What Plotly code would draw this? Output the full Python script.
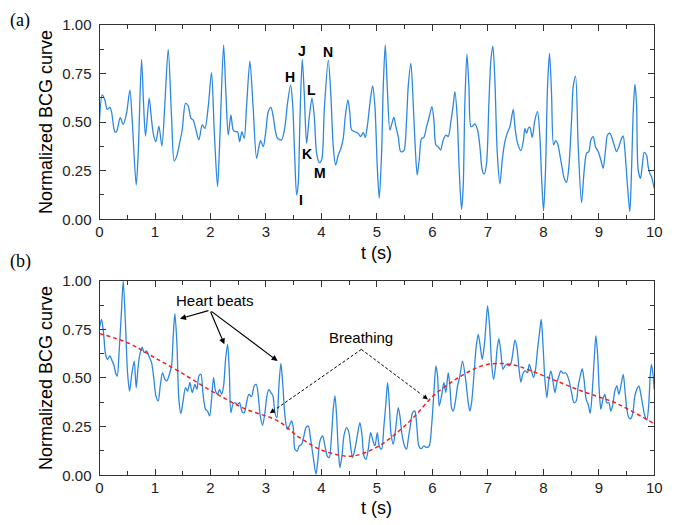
import plotly.graph_objects as go

# ---------------- data ----------------
top_t = [0.000,0.048,0.096,0.138,0.186,0.216,0.276,0.306,0.373,0.427,0.487,0.547,0.589,0.661,0.697,0.757,0.793,0.829,0.895,0.938,0.974,1.016,1.070,1.124,1.178,1.238,1.298,1.346,1.388,1.448,1.490,1.550,1.599,1.647,1.689,1.731,1.791,1.851,1.899,1.959,2.019,2.067,2.127,2.170,2.236,2.278,2.320,2.368,2.410,2.452,2.488,2.524,2.566,2.608,2.650,2.710,2.764,2.831,2.873,2.903,2.951,2.993,3.041,3.089,3.131,3.167,3.209,3.281,
         3.342,3.384,3.444,3.480,3.516,3.552,3.582,3.612,3.654,3.690,3.732,3.775,3.829,3.871,3.913,3.961,4.003,4.051,4.123,4.171,4.213,4.255,4.303,4.351,4.393,4.429,4.477,4.513,4.543,4.603,4.663,4.705,4.754,4.790,4.826,4.874,4.922,4.964,5.006,5.042,5.084,5.114,5.150,5.186,5.234,5.270,5.306,5.342,5.384,5.426,5.462,5.492,5.534,5.564,5.612,5.654,5.690,5.726,5.762,5.805,5.847,5.895,5.943,5.991,6.027,6.063,6.105,6.147,6.195,6.243,6.285,6.333,6.375,6.405,6.447,6.483,6.525,6.555,6.585,
         6.622,6.658,6.694,6.724,6.766,6.814,6.856,6.898,6.934,6.976,7.018,7.054,7.090,7.126,7.169,7.217,7.259,7.307,7.349,7.397,7.457,7.487,7.535,7.595,7.637,7.667,7.697,7.727,7.757,7.799,7.847,7.895,7.937,7.967,8.003,8.039,8.075,8.111,8.147,8.184,8.220,8.256,8.298,8.340,8.376,8.418,8.460,8.508,8.538,8.580,8.628,8.688,8.736,8.778,8.820,8.856,8.898,8.940,8.988,9.036,9.078,9.120,9.156,9.198,9.228,9.276,9.318,9.360,9.409,9.439,9.469,9.517,9.559,9.589,9.619,9.649,9.679,9.709,9.751,9.781,9.817,9.859,9.889,9.919,9.949,9.997]
top_v = [0.510,0.639,0.613,0.565,0.575,0.553,0.450,0.450,0.522,0.488,0.545,0.664,0.510,0.176,0.339,0.822,0.596,0.428,0.622,0.510,0.433,0.399,0.479,0.377,0.596,0.873,0.527,0.300,0.322,0.399,0.459,0.596,0.582,0.519,0.510,0.467,0.408,0.485,0.467,0.579,0.753,0.459,0.168,0.425,0.896,0.647,0.433,0.536,0.459,0.450,0.450,0.399,0.450,0.416,0.579,0.813,0.596,0.313,0.373,0.404,0.373,0.442,0.553,0.575,0.527,0.459,0.416,0.408,
         0.476,0.587,0.690,0.596,0.339,0.125,0.185,0.510,0.822,0.647,0.390,0.510,0.622,0.527,0.339,0.291,0.305,0.562,0.818,0.630,0.373,0.279,0.330,0.365,0.416,0.527,0.613,0.545,0.459,0.450,0.442,0.425,0.445,0.421,0.476,0.596,0.685,0.579,0.271,0.108,0.339,0.682,0.896,0.682,0.459,0.493,0.524,0.476,0.425,0.348,0.348,0.356,0.510,0.682,0.801,0.596,0.373,0.228,0.305,0.416,0.421,0.476,0.527,0.579,0.510,0.382,0.373,0.356,0.408,0.433,0.425,0.502,0.587,0.656,0.527,0.253,0.051,0.168,0.596,
         0.849,0.682,0.476,0.479,0.490,0.459,0.373,0.253,0.233,0.288,0.596,0.818,0.890,0.716,0.339,0.182,0.305,0.399,0.442,0.476,0.565,0.476,0.390,0.353,0.399,0.467,0.442,0.467,0.473,0.421,0.510,0.553,0.425,0.219,0.043,0.253,0.682,0.853,0.647,0.382,0.404,0.390,0.330,0.262,0.211,0.190,0.271,0.510,0.682,0.736,0.373,0.086,0.253,0.339,0.348,0.408,0.425,0.373,0.348,0.305,0.262,0.356,0.433,0.442,0.425,0.382,0.348,0.373,0.416,0.428,0.356,0.168,0.039,0.253,0.545,0.695,0.596,0.253,0.211,0.271,0.344,0.330,0.271,0.236,0.219,0.159]

bot_t = [0.000,0.036,0.072,0.108,0.144,0.186,0.228,0.264,0.288,0.319,0.349,0.397,0.427,0.469,0.505,0.541,0.577,0.625,0.661,0.697,0.733,0.769,0.805,0.847,0.889,0.938,0.980,1.016,1.058,1.094,1.136,1.178,1.214,1.250,1.298,1.328,1.358,1.394,1.430,1.466,1.502,1.550,1.587,1.629,1.671,1.719,1.755,1.791,1.827,1.869,1.911,1.947,1.983,2.019,2.055,2.091,2.127,2.163,2.200,2.236,2.272,2.308,2.338,2.368,2.404,2.440,2.488,2.524,2.572,2.608,2.650,2.692,2.740,2.788,2.825,2.861,2.897,2.939,2.981,3.017,3.053,3.089,3.125,3.161,3.197,3.233,3.269,3.305,
         3.342,3.384,3.420,3.462,3.492,3.522,3.564,3.600,3.642,3.684,3.720,3.763,3.805,3.853,3.901,3.937,3.973,4.021,4.063,4.105,4.141,4.177,4.213,4.243,4.273,4.303,4.333,4.369,4.405,4.453,4.495,4.525,4.561,4.603,4.645,4.693,4.729,4.766,4.802,4.844,4.886,4.922,4.964,5.006,5.042,5.084,5.126,5.162,5.192,5.222,5.252,5.294,5.336,5.384,5.414,5.456,5.498,5.534,5.564,5.606,5.642,5.684,5.714,5.756,5.799,5.847,5.895,5.943,5.985,6.027,6.063,6.093,6.123,6.165,6.207,6.243,6.285,6.315,6.345,6.375,6.411,6.453,6.495,6.543,
         6.600,6.646,6.676,6.706,6.754,6.790,6.826,6.862,6.898,6.934,6.964,6.994,7.030,7.066,7.103,7.139,7.169,7.199,7.235,7.271,7.307,7.343,7.379,7.415,7.451,7.487,7.523,7.559,7.595,7.637,7.679,7.715,7.745,7.787,7.823,7.859,7.895,7.931,7.961,7.991,8.027,8.063,8.099,8.135,8.172,8.208,8.244,8.280,8.316,8.358,8.400,8.436,8.472,8.508,8.550,8.592,8.628,8.664,8.700,8.736,8.772,8.808,8.844,8.880,8.916,8.946,8.976,9.006,9.036,9.072,9.108,9.144,9.180,9.216,9.252,9.288,9.325,9.361,9.397,9.439,9.469,9.505,9.541,9.577,9.613,9.649,9.685,9.721,9.757,9.793,9.829,9.865,9.901,9.925,9.949,9.979,9.997]
bot_v = [0.759,0.801,0.733,0.622,0.596,0.613,0.587,0.562,0.527,0.510,0.613,0.853,0.998,0.767,0.527,0.433,0.510,0.587,0.450,0.562,0.630,0.659,0.630,0.639,0.613,0.579,0.493,0.408,0.382,0.459,0.527,0.493,0.485,0.510,0.562,0.716,0.830,0.682,0.390,0.317,0.373,0.450,0.433,0.476,0.425,0.467,0.442,0.510,0.519,0.408,0.339,0.330,0.305,0.390,0.502,0.433,0.416,0.442,0.416,0.459,0.596,0.673,0.545,0.322,0.365,0.373,0.365,0.373,0.325,0.322,0.373,0.416,0.404,0.459,0.467,0.408,0.305,0.257,0.322,0.408,0.442,0.425,0.408,0.322,0.296,0.459,0.575,0.459,
         0.305,0.236,0.253,0.279,0.245,0.134,0.125,0.151,0.159,0.202,0.245,0.253,0.185,0.091,0.005,0.082,0.176,0.202,0.151,0.099,0.091,0.185,0.339,0.408,0.305,0.134,0.039,0.099,0.202,0.245,0.219,0.151,0.091,0.134,0.202,0.271,0.211,0.099,0.082,0.134,0.219,0.185,0.151,0.219,0.151,0.134,0.253,0.373,0.476,0.373,0.219,0.159,0.236,0.348,0.305,0.202,0.151,0.134,0.185,0.262,0.322,0.330,0.271,0.151,0.137,0.151,0.142,0.151,0.253,0.425,0.562,0.510,0.356,0.408,0.476,0.425,0.527,0.459,0.348,0.330,0.373,0.459,0.510,0.587,
         0.490,0.373,0.330,0.373,0.536,0.664,0.724,0.664,0.596,0.664,0.767,0.870,0.767,0.579,0.493,0.562,0.656,0.702,0.630,0.545,0.562,0.570,0.562,0.575,0.630,0.695,0.656,0.553,0.479,0.527,0.536,0.527,0.570,0.536,0.502,0.545,0.647,0.733,0.801,0.682,0.493,0.399,0.493,0.536,0.485,0.425,0.476,0.510,0.536,0.524,0.527,0.510,0.476,0.425,0.373,0.382,0.459,0.510,0.548,0.485,0.390,0.365,0.318,0.425,0.596,0.716,0.630,0.442,0.339,0.390,0.416,0.373,0.373,0.330,0.365,0.433,0.459,0.416,0.459,0.519,0.442,0.339,0.296,0.291,0.322,0.408,0.442,0.459,0.416,0.356,0.305,0.284,0.373,0.510,0.570,0.510,0.442]

breath_t = [0.000,0.517,0.940,1.420,2.020,2.620,3.210,3.610,3.970,4.330,4.570,4.930,5.290,5.655,6.015,6.375,6.620,6.886,7.187,7.487,7.787,8.087,8.388,8.688,8.990,9.290,9.590,10.000]
breath_v = [0.728,0.680,0.613,0.536,0.433,0.342,0.280,0.193,0.134,0.103,0.099,0.134,0.202,0.296,0.408,0.485,0.527,0.562,0.575,0.565,0.536,0.502,0.467,0.433,0.404,0.373,0.330,0.265]

wave_labels = ["H", "I", "J", "K", "L", "M", "N"]
wave_t = [3.43, 3.63, 3.65, 3.74, 3.82, 3.97, 4.12]
wave_v = [0.733, 0.100, 0.866, 0.335, 0.665, 0.240, 0.858]

# ---------------- figure ----------------
BLUE = "rgb(45,135,225)"
FONT = "Liberation Sans"
AX = "#333333"

fig = go.Figure()
fig.add_trace(go.Scatter(x=top_t, y=top_v, mode="lines", xaxis="x", yaxis="y",
                         line=dict(color=BLUE, width=1.3, shape="spline", smoothing=0.8),
                         showlegend=False, hoverinfo="skip"))
fig.add_trace(go.Scatter(x=bot_t, y=bot_v, mode="lines", xaxis="x2", yaxis="y2",
                         line=dict(color=BLUE, width=1.3, shape="spline", smoothing=0.8),
                         showlegend=False, hoverinfo="skip"))
fig.add_trace(go.Scatter(x=breath_t, y=breath_v, mode="lines", xaxis="x2", yaxis="y2",
                         line=dict(color="rgb(245,30,30)", width=1.5, shape="spline", dash="4px,3px"),
                         showlegend=False, hoverinfo="skip"))

xdom = [0.1352, 0.9547]

def xax(anchor):
    return dict(domain=xdom, anchor=anchor, range=[0, 10], tick0=0, dtick=1, automargin=False,
                showline=True, mirror="allticks", linecolor=AX, linewidth=1,
                ticks="inside", ticklen=6, tickwidth=1, tickcolor=AX, ticklabelstandoff=-1,
                minor=dict(ticks="inside", ticklen=4, dtick=0.5, tick0=0, tickcolor=AX, tickwidth=1),
                showgrid=False, zeroline=False,
                tickfont=dict(family=FONT, size=15, color="#222222"))

def yax(anchor, dom):
    return dict(domain=dom, anchor=anchor, range=[0, 1], tick0=0, dtick=0.25, tickformat=".2f",
                automargin=False, ticklabelstandoff=4,
                showline=True, mirror="allticks", linecolor=AX, linewidth=1,
                ticks="inside", ticklen=6, tickwidth=1, tickcolor=AX,
                minor=dict(ticks="inside", ticklen=4, dtick=0.125, tick0=0, tickcolor=AX, tickwidth=1),
                showgrid=False, zeroline=False,
                tickfont=dict(family=FONT, size=15, color="#222222"))

ann = []
# panel letters
ann.append(dict(text="(a)", x=0.0, y=1.0, xref="paper", yref="paper", xanchor="left", yanchor="top",
                showarrow=False, font=dict(family="Liberation Serif", size=18, color="black")))
ann.append(dict(text="(b)", x=0.0, y=0.5162, xref="paper", yref="paper", xanchor="left", yanchor="middle",
                showarrow=False, font=dict(family="Liberation Serif", size=18, color="black")))
# axis titles
for yc in (0.7829, 0.2952):
    ann.append(dict(text="Normalized BCG curve", x=0.0561, y=yc, xref="paper", yref="paper",
                    textangle=-90, showarrow=False, xanchor="center", yanchor="middle",
                    font=dict(family=FONT, size=18, color="black")))
for yc in (0.533, 0.047):
    ann.append(dict(text="t (s)", x=0.545, y=yc, xref="paper", yref="paper",
                    showarrow=False, xanchor="center", yanchor="middle",
                    font=dict(family=FONT, size=18, color="black")))
# wave letters
for lab, tx, vy in zip(wave_labels, wave_t, wave_v):
    ann.append(dict(text="<b>%s</b>" % lab, x=tx, y=vy, xref="x", yref="y", showarrow=False,
                    font=dict(family=FONT, size=14, color="black")))
# heart beats
ann.append(dict(text="Heart beats", x=2.09, y=0.896, xref="x2", yref="y2", showarrow=False,
                font=dict(family=FONT, size=15, color="black")))
for hx, hy in [(1.45, 0.805), (2.25, 0.673), (3.21, 0.587)]:
    ann.append(dict(text="", x=hx, y=hy, ax=1.99, ay=0.848, xref="x2", yref="y2", axref="x2", ayref="y2",
                    showarrow=True, arrowhead=2, arrowsize=1, arrowwidth=1.2, arrowcolor="black"))
# breathing
ann.append(dict(text="Breathing", x=4.72, y=0.707, xref="x2", yref="y2", showarrow=False,
                font=dict(family=FONT, size=15, color="black")))
shapes = []
for (hx, hy), (tx, ty) in [((3.07, 0.319), (3.186, 0.342)), ((5.92, 0.39), (5.805, 0.415))]:
    shapes.append(dict(type="line", x0=4.72, y0=0.647, x1=tx, y1=ty, xref="x2", yref="y2",
                       line=dict(color="black", width=1, dash="3px,2px")))
    ann.append(dict(text="", x=hx, y=hy, ax=tx, ay=ty, xref="x2", yref="y2", axref="x2", ayref="y2",
                    showarrow=True, arrowhead=2, arrowsize=1, arrowwidth=1, arrowcolor="black"))

fig.update_layout(
    template="none",
    width=677, height=525, margin=dict(l=0, r=0, t=0, b=0, autoexpand=False),
    paper_bgcolor="white", plot_bgcolor="white",
    xaxis=xax("y"), yaxis=yax("x", [0.5975, 0.9682]),
    xaxis2=xax("y2"), yaxis2=yax("x2", [0.1099, 0.4806]),
    annotations=ann, shapes=shapes, showlegend=False,
)

fig.write_html("out.html")
